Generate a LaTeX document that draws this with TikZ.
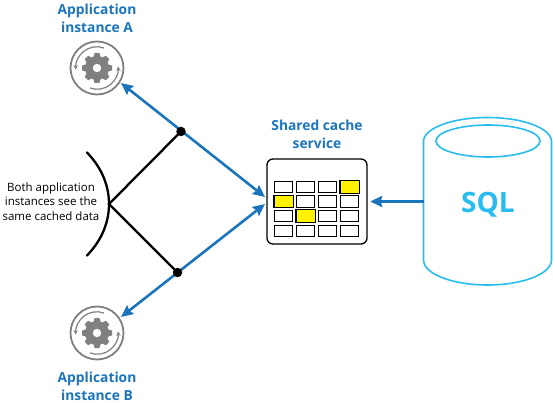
\documentclass[tikz,border=0pt]{standalone}
\usepackage{fontspec}
\setmainfont{Open Sans}
\usepackage{xcolor}
\usetikzlibrary{arrows.meta}
\definecolor{linkblue}{HTML}{1B75BC}
\definecolor{sqlblue}{HTML}{29BDEF}
\definecolor{geargray}{HTML}{808080}
\definecolor{cellyellow}{HTML}{FFF200}
\tikzset{
  link/.style={draw=linkblue, line width=2.6pt, -{Stealth[length=12pt,width=11pt,inset=1.5pt]}},
  twoway/.style={link, {Stealth[length=12pt,width=11pt,inset=1.5pt]}-{Stealth[length=12pt,width=11pt,inset=1.5pt]}},
  heading/.style={text=linkblue, font=\fontsize{13.8}{18}\selectfont\bfseries, align=center, inner sep=0pt},
  cell/.style={draw=black, line width=1.2pt, fill=white, minimum width=18pt, minimum height=11.5pt, inner sep=0pt},
  dot/.style={circle, fill=black, minimum size=9.5pt, inner sep=0pt},
  pics/gearicon/.style={code={
    \draw[geargray, line width=1.8pt] (0,0) circle (26.5);
    \foreach \a in {0,45,...,315}
      \fill[geargray, rotate=\a] (-3.6,-11) -- (-2.4,-15) -- (2.4,-15) -- (3.6,-11) -- cycle;
    \fill[geargray] (0,0) circle (12);
    \fill[white] (0,0) circle (4.2);
    \draw[geargray, line width=1.2pt, -{Stealth[length=4.5pt,width=4.5pt]}] (7,-20) arc[start angle=-70, end angle=-185, radius=21];
    \draw[geargray, line width=1.2pt, -{Stealth[length=4.5pt,width=4.5pt]}] (-7,20) arc[start angle=110, end angle=-5, radius=21];
  }}
}
\begin{document}
\begin{tikzpicture}[x=1pt,y=-1pt]
\useasboundingbox (0,0) rectangle (553,403);

% application instances
\pic at (97,68) {gearicon};
\pic at (97,333) {gearicon};
\node[heading] (titleA) at (97,18) {Application\\instance A};
\node[heading] (titleB) at (97,386) {Application\\instance B};
\coordinate (gearA) at (121,83);
\coordinate (gearB) at (121,317);

% cache
\node[draw=black, line width=1.3pt, rounded corners=6pt, minimum width=100pt, minimum height=85pt] (cache) at (317,201.5) {};
\node[heading] (titlecache) at (317,134.5) {Shared cache\\service};
\foreach \r/\yy in {1/187,2/201.5,3/216,4/231}
  \foreach \c/\xx in {1/283.5,2/305.5,3/327.5,4/349.5}
    \node[cell] (cell\r\c) at (\xx,\yy) {};
\foreach \n in {cell14,cell21,cell32}
  \fill[cellyellow, draw=black, line width=1.2pt] (\n.north west) rectangle (\n.south east);
\coordinate (cacheA) at (265,197);
\coordinate (cacheB) at (265,204);

% sql
\draw[sqlblue, line width=1.6pt, fill=white] (423.5,141.5) arc[start angle=180, end angle=0, x radius=64, y radius=-24]
  -- (551.5,260) arc[start angle=0, end angle=-180, x radius=64, y radius=-25] -- cycle;
\draw[sqlblue, line width=1.6pt] (488,141) ellipse[x radius=52, y radius=16];
\node[text=sqlblue, font=\fontsize{28}{28}\selectfont\bfseries, inner sep=0pt] (sql) at (488,205) {SQL};
\coordinate (sqlside) at (423.5,201.5);

% arrows
\draw[twoway] (gearA) -- (cacheA);
\draw[twoway] (gearB) -- (cacheB);
\draw[link, shorten >=2.5pt] (sqlside) -- (cache.east);

% both see the same data
\node[dot] (dotA) at (181,131.5) {};
\node[dot] (dotB) at (177.5,272.5) {};
\coordinate (share) at (109,204);
\draw[line width=2.3pt] (dotA.center) -- (share) -- (dotB.center);
\draw[line width=2.3pt, line cap=round] (87,152.5) .. controls (102,168) and (109,186) .. (share) .. controls (109,222) and (102,240) .. (87,255.5);
\node[font=\fontsize{11.5}{14.6}\selectfont, align=center, inner sep=0pt] (note) at (51,201.5) {Both application\\instances see the\\same cached data};
\end{tikzpicture}
\end{document}
